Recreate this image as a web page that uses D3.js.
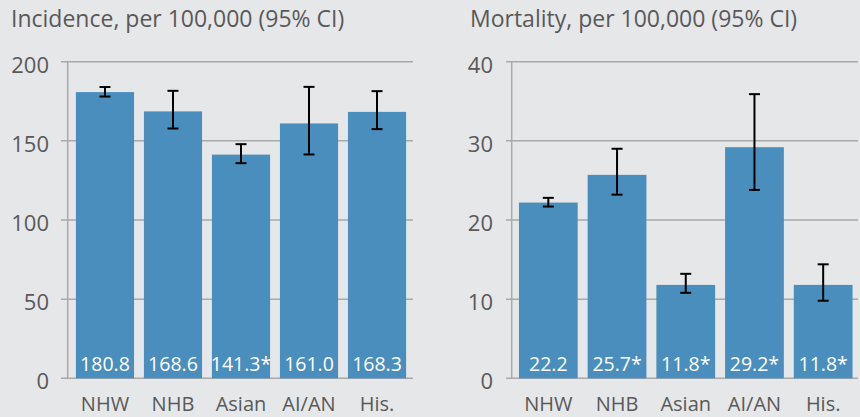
<!DOCTYPE html>
<html>
<head>
<meta charset="utf-8">
<script src="https://cdn.jsdelivr.net/npm/d3@7"></script>
<style>
  body { margin: 0; background: #e6e7e9; }
  svg { display: block; font-family: "Open Sans", sans-serif; }
  .title, .tick-label, .cat-label { fill: #595959; }
</style>
</head>
<body>
<div id="chart"></div>
<script>
const svgWidth = 860,
    svgHeight = 417;

// data
const groups = ["NHW", "NHB", "Asian", "AI/AN", "His."];

const incidence = [180.8, 168.6, 141.3, 161.0, 168.3];
const incidenceLow = [178.0, 157.8, 135.9, 141.4, 157.4];
const incidenceHigh = [184.0, 181.6, 147.9, 184.1, 181.4];
const incidenceLabels = ["180.8", "168.6", "141.3*", "161.0", "168.3"];
const incidenceTicks = [0, 50, 100, 150, 200];

const mortality = [22.2, 25.7, 11.8, 29.2, 11.8];
const mortalityLow = [21.7, 23.2, 10.8, 23.8, 9.8];
const mortalityHigh = [22.8, 29.0, 13.2, 35.9, 14.4];
const mortalityLabels = ["22.2", "25.7*", "11.8*", "29.2*", "11.8*"];
const mortalityTicks = [0, 10, 20, 30, 40];

let svg = d3.select("#chart").append("svg")
    .attr("width", svgWidth)
    .attr("height", svgHeight);

svg.append("rect")
    .attr("width", svgWidth)
    .attr("height", svgHeight)
    .attr("fill", "#e6e7e9");

const plotTop = 61.7,
    plotBottom = 378.3;

drawPanel({
    title: "Incidence, per 100,000 (95% CI)",
    titleX: 11,
    axisX: 67.7,
    gridX0: 61,
    gridX1: 413,
    barRange: [71, 411],
    values: incidence,
    low: incidenceLow,
    high: incidenceHigh,
    labels: incidenceLabels,
    ticks: incidenceTicks,
    labelX: 49
});

drawPanel({
    title: "Mortality, per 100,000 (95% CI)",
    titleX: 470,
    axisX: 511.7,
    gridX0: 506,
    gridX1: 858,
    barRange: [514, 857.5],
    values: mortality,
    low: mortalityLow,
    high: mortalityHigh,
    labels: mortalityLabels,
    ticks: mortalityTicks,
    labelX: 493
});

function drawPanel(cfg) {
    let g = svg.append("g");

    let y = d3.scaleLinear()
        .domain([0, d3.max(cfg.ticks)])
        .range([plotBottom, plotTop]);
    let x = d3.scaleBand()
        .domain(groups)
        .range(cfg.barRange)
        .paddingInner(0.145)
        .paddingOuter(0.072);

    // title
    g.append("text")
        .attr("class", "title")
        .attr("x", cfg.titleX)
        .attr("y", 27)
        .style("font-size", "23px")
        .text(cfg.title);

    // gridlines (they stick out left of the axis like ticks)
    g.selectAll(".grid")
        .data(cfg.ticks)
        .join("line")
        .attr("x1", cfg.gridX0)
        .attr("x2", cfg.gridX1)
        .attr("y1", d => y(d))
        .attr("y2", d => y(d))
        .attr("stroke", "#a9a9a9")
        .attr("stroke-width", 1.5);

    // y axis line
    g.append("line")
        .attr("x1", cfg.axisX)
        .attr("x2", cfg.axisX)
        .attr("y1", plotTop)
        .attr("y2", plotBottom)
        .attr("stroke", "#a9a9a9")
        .attr("stroke-width", 1.5);

    // tick labels
    g.selectAll(".tick-label")
        .data(cfg.ticks)
        .join("text")
        .attr("class", "tick-label")
        .attr("text-anchor", "end")
        .attr("x", cfg.labelX)
        .attr("y", d => y(d) + 11)
        .style("font-size", "22px")
        .text(d => d);

    // bars
    g.selectAll(".bar")
        .data(cfg.values)
        .join("rect")
        .attr("class", "bar")
        .attr("x", (d, i) => x(groups[i]))
        .attr("y", d => y(d))
        .attr("width", x.bandwidth())
        .attr("height", d => y(0) - y(d))
        .attr("fill", "#4a8ebd");

    // error bars
    const capW = 11;
    let err = g.selectAll(".err")
        .data(cfg.values.map((v, i) => ({ lo: cfg.low[i], hi: cfg.high[i], cx: x(groups[i]) + x.bandwidth() / 2 })))
        .join("g")
        .attr("class", "err")
        .attr("stroke", "#000")
        .attr("stroke-width", 2);
    err.append("line")
        .attr("x1", d => d.cx).attr("x2", d => d.cx)
        .attr("y1", d => y(d.hi)).attr("y2", d => y(d.lo));
    err.append("line")
        .attr("x1", d => d.cx - capW / 2).attr("x2", d => d.cx + capW / 2)
        .attr("y1", d => y(d.hi)).attr("y2", d => y(d.hi));
    err.append("line")
        .attr("x1", d => d.cx - capW / 2).attr("x2", d => d.cx + capW / 2)
        .attr("y1", d => y(d.lo)).attr("y2", d => y(d.lo));

    // value labels inside bars
    g.selectAll(".val")
        .data(cfg.labels)
        .join("text")
        .attr("class", "val")
        .attr("text-anchor", "middle")
        .attr("x", (d, i) => x(groups[i]) + x.bandwidth() / 2)
        .attr("y", 371)
        .attr("fill", "#fff")
        .style("font-size", "19.5px")
        .text(d => d);

    // category labels
    g.selectAll(".cat-label")
        .data(groups)
        .join("text")
        .attr("class", "cat-label")
        .attr("text-anchor", "middle")
        .attr("x", d => x(d) + x.bandwidth() / 2)
        .attr("y", 411)
        .style("font-size", "20px")
        .text(d => d);
}
</script>
</body>
</html>
